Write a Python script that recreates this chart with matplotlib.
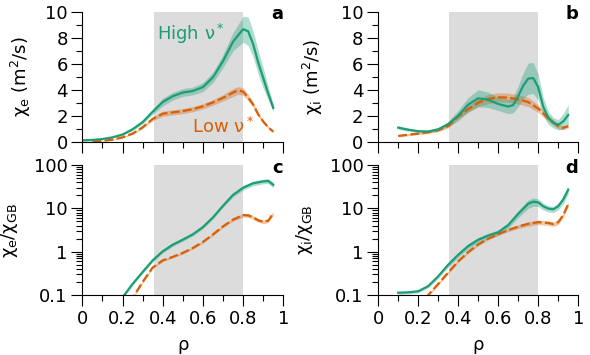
import numpy as np
import matplotlib
matplotlib.use("Agg")
import matplotlib.pyplot as plt
from matplotlib.ticker import MultipleLocator, FixedLocator, FuncFormatter, LogLocator, NullFormatter

green = "#1b9e77"
orange = "#d95f02"

# panel a: chi_e (m2/s)
a_hi_x = [0, 0.05, 0.1, 0.15, 0.2, 0.25, 0.3, 0.35, 0.4, 0.45, 0.5, 0.55, 0.6, 0.65, 0.7, 0.75, 0.8, 0.825, 0.85, 0.875, 0.9, 0.925, 0.95]
a_hi_y = [0.1, 0.13, 0.2, 0.33, 0.55, 0.95, 1.5, 2.3, 3.05, 3.5, 3.78, 3.9, 4.2, 4.95, 6.2, 7.7, 8.65, 8.5, 7.5, 6.1, 4.9, 3.7, 2.6]
a_hi_err = [0.05, 0.05, 0.05, 0.05, 0.08, 0.1, 0.15, 0.2, 0.3, 0.3, 0.3, 0.3, 0.35, 0.4, 0.5, 0.7, 1.0, 1.1, 1.0, 0.9, 0.8, 0.5, 0.3]
a_lo_x = [0.05, 0.1, 0.15, 0.2, 0.25, 0.3, 0.35, 0.4, 0.45, 0.5, 0.55, 0.6, 0.65, 0.7, 0.75, 0.775, 0.8, 0.825, 0.85, 0.875, 0.9, 0.925, 0.95]
a_lo_y = [0.02, 0.06, 0.15, 0.33, 0.62, 1.1, 1.75, 2.15, 2.25, 2.35, 2.5, 2.72, 3.02, 3.37, 3.78, 3.95, 3.85, 3.4, 2.85, 2.1, 1.55, 1.1, 0.77]
a_lo_err = [0.02, 0.02, 0.03, 0.05, 0.08, 0.1, 0.15, 0.2, 0.2, 0.2, 0.2, 0.2, 0.22, 0.25, 0.3, 0.3, 0.3, 0.25, 0.2, 0.15, 0.12, 0.1, 0.08]

# panel b: chi_i (m2/s)
b_hi_x = [0.1, 0.15, 0.2, 0.25, 0.3, 0.35, 0.4, 0.45, 0.5, 0.55, 0.6, 0.65, 0.675, 0.7, 0.725, 0.75, 0.775, 0.8, 0.825, 0.85, 0.875, 0.9, 0.925, 0.95]
b_hi_y = [1.08, 0.92, 0.8, 0.78, 0.95, 1.35, 2.0, 2.85, 3.34, 3.22, 2.9, 2.7, 2.82, 3.5, 4.3, 4.85, 4.9, 4.2, 2.7, 1.85, 1.45, 1.3, 1.55, 2.05]
b_hi_err = [0.15, 0.12, 0.1, 0.1, 0.12, 0.2, 0.4, 0.55, 0.65, 0.6, 0.5, 0.55, 0.6, 0.8, 1.0, 1.2, 1.2, 1.0, 0.7, 0.5, 0.4, 0.4, 0.6, 0.8]
b_lo_x = [0.1, 0.15, 0.2, 0.25, 0.3, 0.35, 0.4, 0.45, 0.5, 0.55, 0.6, 0.65, 0.7, 0.75, 0.8, 0.85, 0.9, 0.925, 0.95]
b_lo_y = [0.44, 0.53, 0.62, 0.72, 0.88, 1.2, 1.95, 2.5, 3.0, 3.28, 3.41, 3.39, 3.25, 3.05, 2.55, 1.8, 1.18, 1.07, 1.18]
b_lo_err = [0.08, 0.08, 0.08, 0.1, 0.12, 0.15, 0.2, 0.25, 0.3, 0.35, 0.35, 0.35, 0.35, 0.35, 0.3, 0.25, 0.2, 0.15, 0.15]

# panel c: chi_e / chi_GB
c_hi_x = [0.15, 0.2, 0.25, 0.3, 0.35, 0.4, 0.45, 0.5, 0.55, 0.6, 0.65, 0.7, 0.75, 0.8, 0.85, 0.9, 0.925, 0.95]
c_hi_y = [0.05, 0.088, 0.18, 0.34, 0.63, 1.02, 1.45, 1.9, 2.52, 3.7, 6.2, 11.5, 20.5, 30, 38, 42, 43, 35]
c_hi_rel = [0.08, 0.08, 0.08, 0.08, 0.08, 0.08, 0.08, 0.08, 0.08, 0.08, 0.08, 0.08, 0.1, 0.12, 0.12, 0.12, 0.13, 0.15]
c_lo_x = [0.2, 0.25, 0.3, 0.35, 0.4, 0.45, 0.5, 0.55, 0.6, 0.65, 0.7, 0.75, 0.8, 0.825, 0.85, 0.875, 0.9, 0.925, 0.95]
c_lo_y = [0.04, 0.085, 0.2, 0.43, 0.63, 0.76, 0.94, 1.22, 1.68, 2.5, 3.85, 5.5, 7.0, 6.9, 6.2, 5.3, 4.9, 5.2, 7.7]
c_lo_rel = [0.06, 0.06, 0.06, 0.06, 0.06, 0.06, 0.06, 0.06, 0.06, 0.06, 0.07, 0.08, 0.1, 0.1, 0.1, 0.1, 0.1, 0.1, 0.1]

# panel d: chi_i / chi_GB
d_hi_x = [0.1, 0.15, 0.2, 0.25, 0.3, 0.35, 0.4, 0.45, 0.5, 0.55, 0.6, 0.65, 0.7, 0.75, 0.775, 0.8, 0.825, 0.85, 0.875, 0.9, 0.925, 0.95]
d_hi_y = [0.113, 0.115, 0.122, 0.16, 0.27, 0.5, 0.85, 1.35, 1.88, 2.35, 2.8, 4.1, 7.5, 12.8, 14.3, 13.8, 11.2, 9.9, 9.5, 11.2, 16, 27]
d_hi_rel = [0.08, 0.08, 0.08, 0.08, 0.1, 0.12, 0.12, 0.14, 0.14, 0.14, 0.14, 0.15, 0.18, 0.22, 0.22, 0.2, 0.18, 0.16, 0.16, 0.18, 0.2, 0.2]
d_lo_x = [0.2, 0.25, 0.3, 0.35, 0.4, 0.45, 0.5, 0.55, 0.6, 0.65, 0.7, 0.75, 0.8, 0.85, 0.875, 0.9, 0.925, 0.95]
d_lo_y = [0.05, 0.1, 0.18, 0.33, 0.6, 0.98, 1.47, 2.0, 2.55, 3.15, 3.8, 4.4, 4.8, 4.6, 4.35, 4.8, 7.0, 12.5]
d_lo_rel = [0.07, 0.07, 0.07, 0.07, 0.07, 0.07, 0.07, 0.07, 0.08, 0.08, 0.1, 0.12, 0.12, 0.12, 0.12, 0.12, 0.12, 0.12]

shade = (0.355, 0.8)
fs = 13

plt.rcParams['font.family'] = 'DejaVu Sans'
plt.rcParams['mathtext.fontset'] = 'dejavusans'

fig = plt.figure(figsize=(5.9, 3.55), dpi=100)
ax_a = fig.add_axes([0.1395, 0.601, 0.3407, 0.366])
ax_b = fig.add_axes([0.641, 0.601, 0.339, 0.366])
ax_c = fig.add_axes([0.1395, 0.169, 0.3407, 0.366])
ax_d = fig.add_axes([0.641, 0.169, 0.339, 0.366])


def draw(ax, hi, lo):
    # bands first, then orange dashed, then green solid on top
    for x, y, l, u, col in (lo, hi):
        ax.fill_between(x, l, u, color=col, alpha=0.35, lw=0)
    x, y, l, u, col = lo
    ax.plot(x, y, color=col, lw=1.6, ls=(0, (4, 1.5)))
    x, y, l, u, col = hi
    ax.plot(x, y, color=col, lw=1.6)


def lin(x, y, e, col):
    x = np.array(x); y = np.array(y); e = np.array(e)
    return x, y, y - e, y + e, col


def rel(x, y, r, col):
    x = np.array(x); y = np.array(y); r = np.array(r)
    return x, y, y * (1 - r), y * (1 + r), col


def style(ax, letter, log=False):
    ax.axvspan(shade[0], shade[1], color='#dcdcdc', lw=0, zorder=0)
    for s in ['top', 'right']:
        ax.spines[s].set_visible(False)
    for s in ['left', 'bottom']:
        ax.spines[s].set_linewidth(0.8)
    ax.set_xlim(0, 1)
    ax.xaxis.set_major_locator(MultipleLocator(0.2))
    ax.xaxis.set_minor_locator(MultipleLocator(0.1))
    ax.xaxis.set_major_formatter(FuncFormatter(lambda v, p: '%g' % v))
    ax.tick_params(which='major', length=8, width=0.8, labelsize=fs, pad=2.5)
    ax.tick_params(which='minor', length=4, width=0.8)
    if log:
        ax.set_yscale('log')
        ax.set_ylim(0.1, 100)
        ax.yaxis.set_major_locator(FixedLocator([0.1, 1, 10, 100]))
        ax.yaxis.set_major_formatter(FuncFormatter(lambda v, p: '%g' % v))
        ax.yaxis.set_minor_locator(LogLocator(base=10, subs=np.arange(2, 10)))
        ax.yaxis.set_minor_formatter(NullFormatter())
    else:
        ax.set_ylim(0, 10)
        ax.yaxis.set_major_locator(MultipleLocator(2))
        ax.yaxis.set_minor_locator(MultipleLocator(1))
    ax.text(1.0, 0.98, letter, transform=ax.transAxes, ha='right', va='center',
            fontsize=fs, fontweight='bold')


# a
draw(ax_a, lin(a_hi_x, a_hi_y, a_hi_err, green), lin(a_lo_x, a_lo_y, a_lo_err, orange))
style(ax_a, 'a')
ax_a.set_xticklabels([])
ax_a.set_ylabel('χ$_\\mathrm{e}$ (m$^2$/s)', fontsize=fs)
ax_a.yaxis.set_label_coords(-0.245, 0.5)
ax_a.text(0.373, 8.3, 'High ν$^*$', color=green, fontsize=fs, va='center')
ax_a.text(0.544, 1.15, 'Low ν$^*$', color=orange, fontsize=fs, va='center')

# b
draw(ax_b, lin(b_hi_x, b_hi_y, b_hi_err, green), lin(b_lo_x, b_lo_y, b_lo_err, orange))
style(ax_b, 'b')
ax_b.set_xticklabels([])
ax_b.set_ylabel('χ$_\\mathrm{i}$ (m$^2$/s)', fontsize=fs)
ax_b.yaxis.set_label_coords(-0.267, 0.5)

# c
draw(ax_c, rel(c_hi_x, c_hi_y, c_hi_rel, green), rel(c_lo_x, c_lo_y, c_lo_rel, orange))
style(ax_c, 'c', log=True)
ax_c.set_ylabel('χ$_\\mathrm{e}$/χ$_\\mathrm{GB}$', fontsize=fs)
ax_c.yaxis.set_label_coords(-0.31, 0.5)
ax_c.set_xlabel('ρ', fontsize=fs, labelpad=6)

# d
draw(ax_d, rel(d_hi_x, d_hi_y, d_hi_rel, green), rel(d_lo_x, d_lo_y, d_lo_rel, orange))
style(ax_d, 'd', log=True)
ax_d.set_ylabel('χ$_\\mathrm{i}$/χ$_\\mathrm{GB}$', fontsize=fs)
ax_d.yaxis.set_label_coords(-0.317, 0.5)
ax_d.set_xlabel('ρ', fontsize=fs, labelpad=6)

fig.savefig('out.png', dpi=100)
